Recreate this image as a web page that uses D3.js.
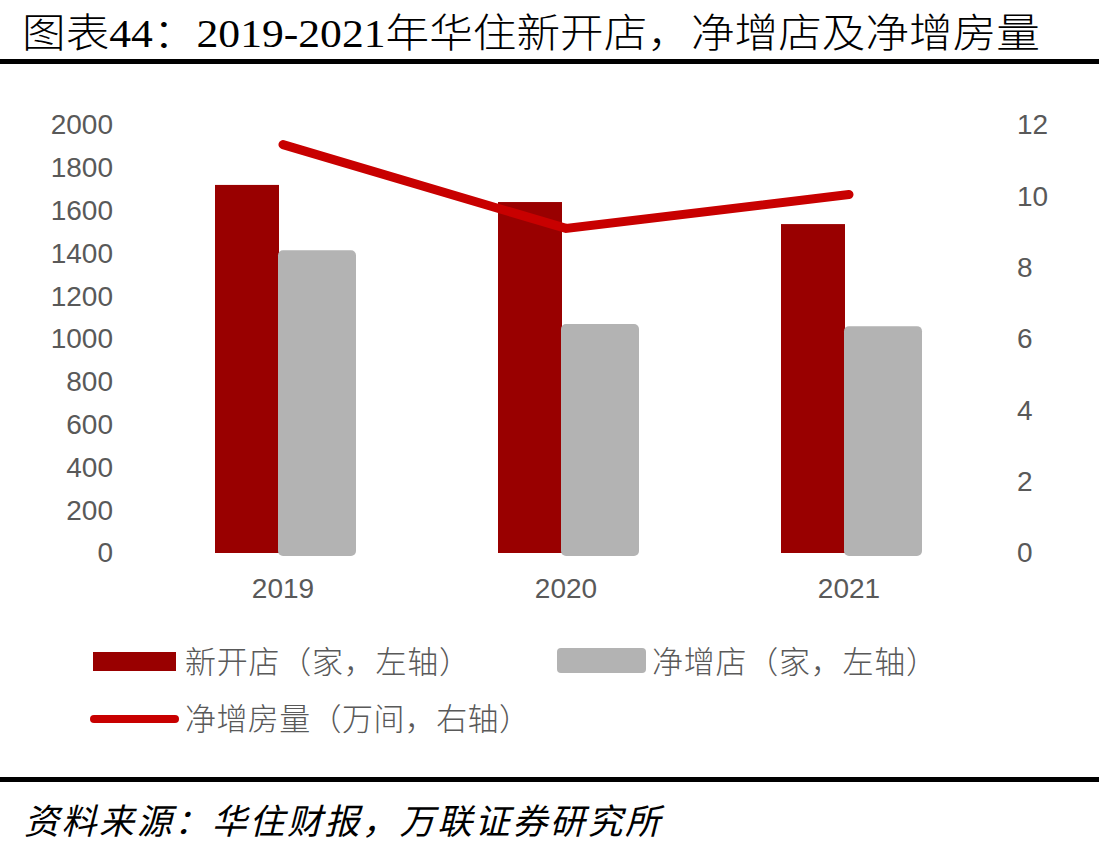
<!DOCTYPE html>
<html>
<head>
<meta charset="utf-8">
<script src="https://cdn.jsdelivr.net/npm/d3@7"></script>
<style>
  html, body { margin: 0; padding: 0; background: #fff; }
  svg { display: block; }
</style>
</head>
<body>
<div id="chart"></div>
<script>
const categories = ["2019", "2020", "2021"];
const newStores = [1720, 1640, 1537];
const netStores = [1415, 1070, 1060];
const netRooms = [11.45, 9.1, 10.05];
const leftTicks = [0, 200, 400, 600, 800, 1000, 1200, 1400, 1600, 1800, 2000];
const rightTicks = [0, 2, 4, 6, 8, 10, 12];
const titleText = "图表44：2019-2021年华住新开店，净增店及净增房量";
const sourceText = "资料来源：华住财报，万联证券研究所";
const legendLabels = ["新开店（家，左轴）", "净增店（家，左轴）", "净增房量（万间，右轴）"];

const W = 1099, H = 852;
const svg = d3.select("#chart").append("svg").attr("width", W).attr("height", H);

const COL_RED = "#990000", COL_GRAY = "#B3B3B3", COL_LINE = "#C80000", COL_TEXT = "#595959";
const sansFont = "'Liberation Sans', Arial, sans-serif";
const cjkFont = "'Noto Sans CJK SC', sans-serif";

// Title
svg.append("text")
  .attr("x", 22).attr("y", 47)
  .attr("font-family", "'Liberation Serif', 'Noto Sans CJK SC', serif")
  .attr("font-size", 40).attr("font-weight", 300)
  .attr("textLength", 1018).attr("lengthAdjust", "spacingAndGlyphs")
  .attr("fill", "#000")
  .text(titleText);
svg.append("rect").attr("x", 0).attr("y", 59).attr("width", W).attr("height", 5).attr("fill", "#000");

// Scales
const x = d3.scaleBand().domain(categories).range([141.5, 990.5]);
const yL = d3.scaleLinear().domain([0, 2000]).range([553, 125]);
const yR = d3.scaleLinear().domain([0, 12]).range([553, 125]);
const cx = d => x(d) + x.bandwidth() / 2;

// Axes
const axL = svg.append("g").attr("transform", "translate(113,0)")
  .call(d3.axisLeft(yL).tickValues(leftTicks).tickFormat(d3.format("d")).tickSize(0).tickPadding(0));
const axR = svg.append("g").attr("transform", "translate(1017,0)")
  .call(d3.axisRight(yR).tickValues(rightTicks).tickFormat(d3.format("d")).tickSize(0).tickPadding(0));
const axX = svg.append("g").attr("transform", "translate(0,588)")
  .call(d3.axisBottom(x).tickSize(0).tickPadding(0));
[axL, axR, axX].forEach(g => {
  g.select(".domain").remove();
  g.selectAll("text").attr("font-family", sansFont).attr("font-size", 28).attr("fill", COL_TEXT);
});
axX.selectAll("text").attr("dy", "0.35em");

// Bars
svg.append("g").selectAll("rect").data(categories).join("rect")
  .attr("x", d => cx(d) - 68).attr("width", 64)
  .attr("y", (d, i) => yL(newStores[i]))
  .attr("height", (d, i) => yL(0) - yL(newStores[i]))
  .attr("fill", COL_RED);
svg.append("g").selectAll("rect").data(categories).join("rect")
  .attr("x", d => cx(d) - 5).attr("width", 78)
  .attr("y", (d, i) => yL(netStores[i]))
  .attr("height", (d, i) => yL(0) - yL(netStores[i]) + 3)
  .attr("rx", 5).attr("ry", 5)
  .attr("fill", COL_GRAY);

// Line
const line = d3.line().x((d, i) => cx(categories[i])).y(d => yR(d));
svg.append("path").datum(netRooms)
  .attr("d", line)
  .attr("fill", "none").attr("stroke", COL_LINE).attr("stroke-width", 9)
  .attr("stroke-linecap", "round").attr("stroke-linejoin", "miter");

// Legend
const lg = svg.append("g");
lg.append("rect").attr("x", 93).attr("y", 652).attr("width", 83).attr("height", 19).attr("fill", COL_RED);
lg.append("rect").attr("x", 557).attr("y", 648).attr("width", 89).attr("height", 25).attr("rx", 4).attr("fill", COL_GRAY);
lg.append("line").attr("x1", 94).attr("x2", 175).attr("y1", 719).attr("y2", 719)
  .attr("stroke", COL_LINE).attr("stroke-width", 8).attr("stroke-linecap", "round");
const legPos = [[185, 662, 285], [652, 662, 285], [185, 719, 345]];
legendLabels.forEach((t, i) => {
  lg.append("text").attr("x", legPos[i][0]).attr("y", legPos[i][1])
    .attr("dy", "0.36em")
    .attr("font-family", cjkFont).attr("font-size", 31).attr("font-weight", 300).attr("fill", COL_TEXT)
    .attr("textLength", legPos[i][2]).attr("lengthAdjust", "spacing")
    .text(t);
});

// Bottom rule and source
svg.append("rect").attr("x", 0).attr("y", 777).attr("width", W).attr("height", 5).attr("fill", "#000");
svg.append("text")
  .attr("x", 24).attr("y", 834)
  .attr("font-family", cjkFont).attr("font-size", 35).attr("font-style", "italic")
  .attr("textLength", 636).attr("lengthAdjust", "spacing")
  .attr("fill", "#000")
  .text(sourceText);
</script>
</body>
</html>
